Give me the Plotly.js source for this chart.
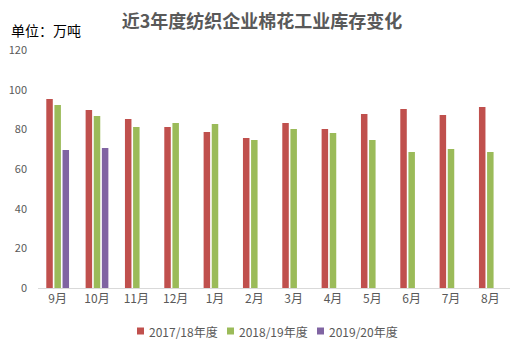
<!DOCTYPE html>
<html>
<head>
<meta charset="utf-8">
<script src="https://cdn.plot.ly/plotly-3.0.1.min.js"></script>
<style>html,body{margin:0;padding:0;background:#fff;}#chart{width:524px;height:351px;}</style>
</head>
<body>
<div id="chart"></div>
<script>
const months = ['9月','10月','11月','12月','1月','2月','3月','4月','5月','6月','7月','8月'];
const s1718 = [95.3, 89.8, 85.2, 81.2, 78.7, 75.6, 83.2, 80.2, 87.7, 90.3, 87.2, 91.3];
const s1819 = [92.3, 86.7, 81.2, 83.2, 82.7, 74.6, 80.2, 78.2, 74.6, 68.6, 70.1, 68.6];
const s1920 = [69.6, 70.6];
const months1920 = ['9月','10月'];
const seriesNames = ['2017/18年度','2018/19年度','2019/20年度'];
const colors = ['#C0504D','#9BBB59','#8064A2'];

const data = [
  {type:'bar', x: months, y: s1718, name: seriesNames[0], marker:{color:colors[0]}},
  {type:'bar', x: months, y: s1819, name: seriesNames[1], marker:{color:colors[1]}},
  {type:'bar', x: months1920, y: s1920, name: seriesNames[2], marker:{color:colors[2]}}
];
const font = "'Microsoft YaHei','Noto Sans CJK SC', 'DejaVu Sans', sans-serif";

// custom legend (small squares close to text, like the reference)
const W = 524, H = 351, L = 38, R = 14, T = 50, B = 63;
const pw = W - L - R, ph = H - T - B;
const legendX = [137, 227, 317];   // left edge of each legend square, px
const legendY = 331;               // centre line of legend, px
const shapes = [], annotations = [];
seriesNames.forEach((n, i) => {
  const x0 = (legendX[i] - L) / pw, x1 = (legendX[i] + 7 - L) / pw;
  const yc = (H - B - legendY) / ph;
  const hs = 3.5 / ph;
  shapes.push({type:'rect', xref:'paper', yref:'paper', x0:x0, x1:x1, y0:yc-hs, y1:yc+hs,
               fillcolor:colors[i], line:{width:0}});
  annotations.push({text:n, xref:'paper', yref:'paper', x:(legendX[i] + 10 - L) / pw, xanchor:'left',
                    y:yc, yanchor:'middle', showarrow:false, font:{size:12, color:'#595959', family:font}});
});
annotations.push({text:'单位：万吨', xref:'paper', yref:'paper', x:(9 - L) / pw, xanchor:'left',
                  y:(H - B - 30) / ph, yanchor:'middle', showarrow:false,
                  font:{size:14, color:'#000', family:font}});

const layout = {
  width:W, height:H,
  margin:{l:L, r:R, t:T, b:B, autoexpand:false},
  paper_bgcolor:'#fff', plot_bgcolor:'#fff',
  font:{family:font, color:'#595959', size:11},
  title:{text:'<b>近3年度纺织企业棉花工业库存变化</b>', x:0.5, xanchor:'center', y:(H - 22) / H, yanchor:'middle',
         font:{size:18, color:'#595959', family:font}},
  barmode:'group', bargap:0.38, bargroupgap:0.2,
  xaxis:{type:'category', categoryorder:'array', categoryarray: months,
         showline:true, linecolor:'#d9d9d9', linewidth:1, ticks:'', showgrid:false,
         tickfont:{size:12, color:'#595959'}},
  yaxis:{range:[0,120], dtick:20, showgrid:false, zeroline:false, showline:false, ticks:'',
         tickfont:{size:11, color:'#595959'}, ticklabelstandoff:10},
  showlegend:false,
  shapes:shapes,
  annotations:annotations
};
Plotly.newPlot('chart', data, layout, {displayModeBar:false, staticPlot:true});
</script>
</body>
</html>
